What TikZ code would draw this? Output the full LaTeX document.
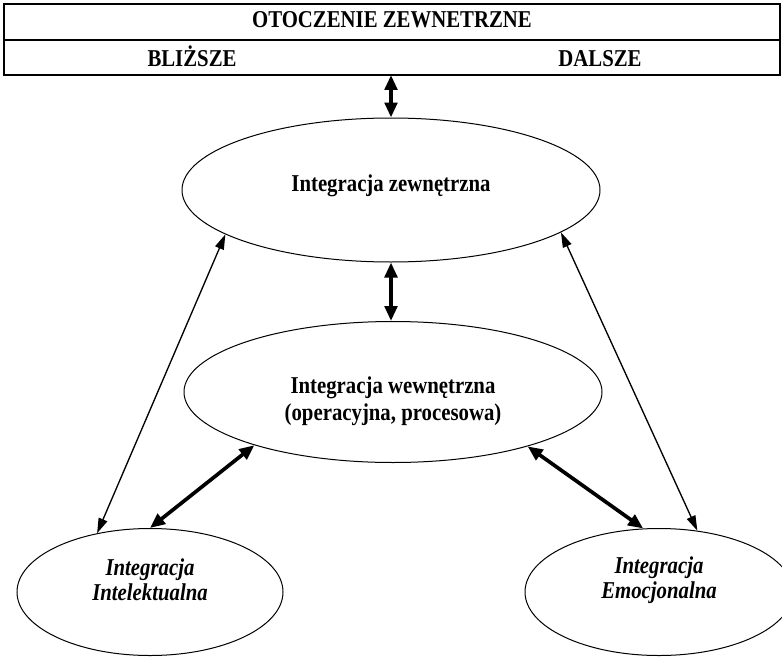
\documentclass[tikz,border=0pt]{standalone}
\usepackage{fontspec}
\setmainfont{Liberation Serif}[FakeStretch=0.86]
\usetikzlibrary{arrows.meta,shapes.geometric}

\tikzset{
  txt/.style={font=\fontsize{14.5}{16}\selectfont\bfseries, align=center, inner sep=0pt},
  lbl/.style={txt},
  ilbl/.style={txt, font=\fontsize{14.5}{15}\selectfont\bfseries\itshape},
  oval/.style={draw, ellipse, line width=0.6pt, inner sep=0pt},
  link/.style={{Triangle[length=9pt,width=5.5pt]}-{Triangle[length=9pt,width=5.5pt]}, line width=0.8pt},
  heavylink/.style={{Triangle[length=9pt,width=7.5pt]}-{Triangle[length=9pt,width=7.5pt]}, line width=2.2pt},
  frame/.style={draw, line width=0.9pt}
}

\begin{document}
\begin{tikzpicture}[x=0.6pt, y=-0.6pt]
  \useasboundingbox (0,0) rectangle (782,657);

  % environment header box
  \draw[frame] (4,4) rectangle (780,75);
  \draw[frame] (4,40) -- (780,40);
  \coordinate (boxbottom) at (391,75);
  \node[lbl, anchor=base] (title) at (392,28) {OTOCZENIE ZEWNETRZNE};
  \node[lbl, anchor=base] (near) at (192,67) {BLIŻSZE};
  \node[lbl, anchor=base] (far) at (600,67) {DALSZE};

  % ellipses
  \node[oval, minimum width=418*0.6pt, minimum height=144*0.6pt] (ez) at (391,190) {};
  \node[lbl] (ezt) at (391,186) {Integracja zewnętrzna};

  \node[oval, minimum width=418*0.6pt, minimum height=141*0.6pt] (ew) at (393,392) {};
  \node[lbl] (ewt) at (393,401) {Integracja wewnętrzna\\(operacyjna, procesowa)};

  \node[oval, minimum width=266*0.6pt, minimum height=127*0.6pt] (ei) at (150,592) {};
  \node[ilbl] (eit) at (150,580) {Integracja\\Intelektualna};

  \node[oval, minimum width=268*0.6pt, minimum height=127*0.6pt] (ee) at (659,592) {};
  \node[ilbl] (eet) at (659,580) {Integracja\\Emocjonalna};

  % connectors
  \draw[heavylink] (boxbottom) -- (ez.north);
  \draw[heavylink] (ez.south) -- (ez.south |- ew.north);
  \draw[link] (ei.132) -- (ez.195);
  \draw[link] (ee.58) -- (ez.346.5);
  \draw[heavylink] (ei.90) -- (ew.201.7);
  \draw[heavylink] (ee.104.7) -- (ew.338.4);
\end{tikzpicture}
\end{document}
